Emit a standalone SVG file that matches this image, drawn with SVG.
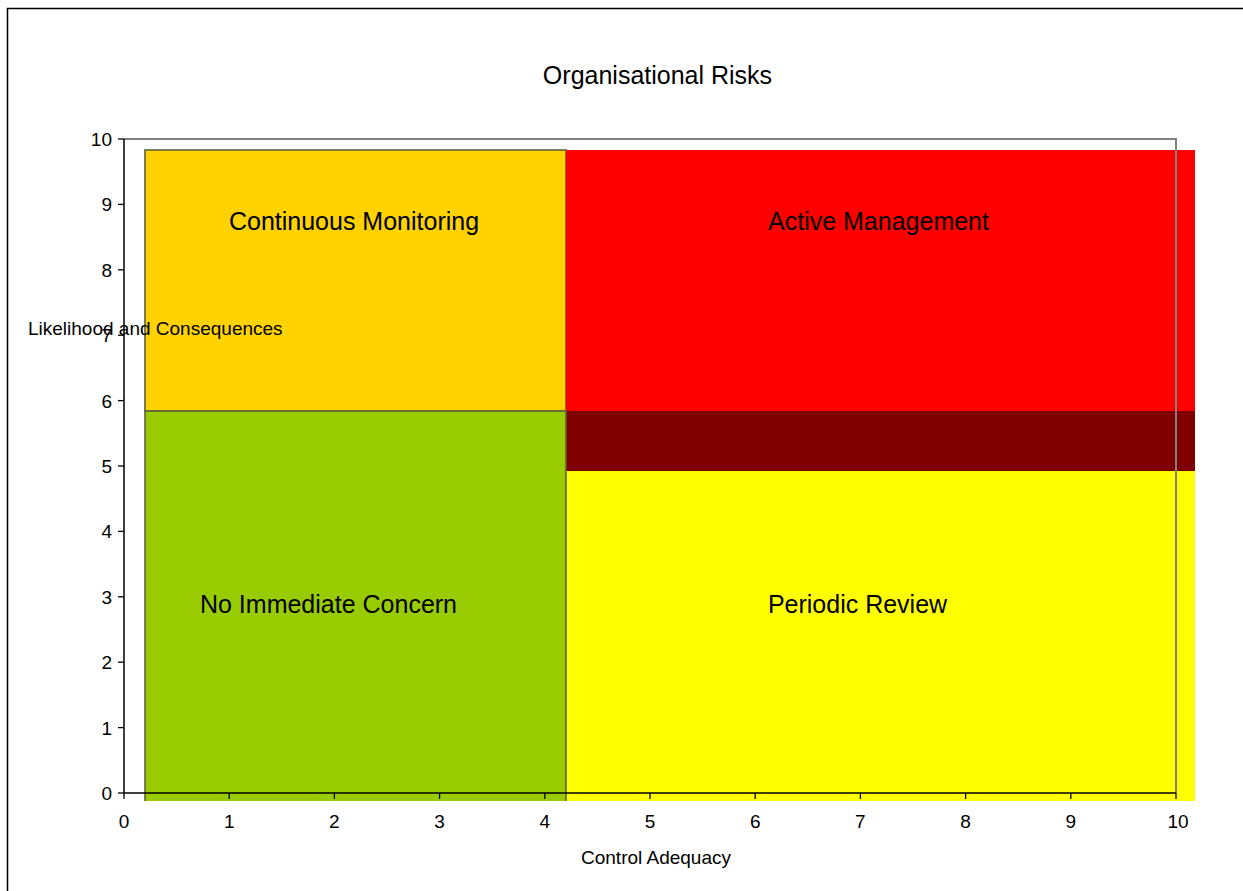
<svg xmlns="http://www.w3.org/2000/svg" width="1243" height="891" viewBox="0 0 1243 891">
<style>
text{font-family:"Liberation Sans",Arial,sans-serif;fill:#000}
.t{font-size:19px}
.r{font-size:25px;text-anchor:middle}
.yl{text-anchor:end}
.xl{text-anchor:middle}
.tick{stroke:#000;stroke-width:1.3}
.zone{stroke:none}
.edge{fill:none;stroke:#5f5f3a;stroke-width:2;stroke-opacity:0.8}
</style>
<rect x="0" y="0" width="1243" height="891" fill="#fff"/>
<rect x="7.5" y="8.5" width="1300" height="1000" fill="none" stroke="#000" stroke-width="1.5"/>
<text class="r" x="657.5" y="84">Organisational Risks</text>
<g id="zones">
<g id="continuous-monitoring">
<rect class="zone" x="145" y="150" width="421" height="261" fill="#FFD200"/>
<rect class="edge" x="145" y="150" width="421" height="261"/>
<text class="r" x="354" y="230">Continuous Monitoring</text>
</g>
<g id="active-management">
<rect class="zone" x="566" y="150" width="629" height="261" fill="#FF0000"/>
<text class="r" x="878.5" y="230">Active Management</text>
</g>
<g id="overlap">
<rect class="zone" x="566" y="411" width="629" height="60" fill="#800000"/>
</g>
<g id="no-immediate-concern">
<rect class="zone" x="145" y="411" width="421" height="390" fill="#99CC00"/>
<polyline class="edge" points="145,801 145,411 566,411 566,801"/>
<text class="r" x="328.5" y="613">No Immediate Concern</text>
</g>
<g id="periodic-review">
<rect class="zone" x="567" y="471" width="628" height="330" fill="#FFFF00"/>
<text class="r" x="857.5" y="613">Periodic Review</text>
</g>
</g>
<g id="axes">
<polyline points="124,139 1176,139 1176,793" fill="none" stroke="#808080" stroke-width="2"/>
<line x1="124" y1="139" x2="124" y2="793" stroke="#000" stroke-width="1.5"/>
<line x1="124" y1="793" x2="1176" y2="793" stroke="#000" stroke-width="1.5"/>
<g class="tick">
<line x1="118" y1="139" x2="124" y2="139"/>
<line x1="118" y1="204.4" x2="124" y2="204.4"/>
<line x1="118" y1="269.8" x2="124" y2="269.8"/>
<line x1="118" y1="335.2" x2="124" y2="335.2"/>
<line x1="118" y1="400.6" x2="124" y2="400.6"/>
<line x1="118" y1="466" x2="124" y2="466"/>
<line x1="118" y1="531.4" x2="124" y2="531.4"/>
<line x1="118" y1="596.8" x2="124" y2="596.8"/>
<line x1="118" y1="662.2" x2="124" y2="662.2"/>
<line x1="118" y1="727.6" x2="124" y2="727.6"/>
<line x1="118" y1="793" x2="124" y2="793"/>
<line x1="124" y1="793" x2="124" y2="799"/>
<line x1="229.2" y1="793" x2="229.2" y2="799"/>
<line x1="334.4" y1="793" x2="334.4" y2="799"/>
<line x1="439.6" y1="793" x2="439.6" y2="799"/>
<line x1="544.8" y1="793" x2="544.8" y2="799"/>
<line x1="650" y1="793" x2="650" y2="799"/>
<line x1="755.2" y1="793" x2="755.2" y2="799"/>
<line x1="860.4" y1="793" x2="860.4" y2="799"/>
<line x1="965.6" y1="793" x2="965.6" y2="799"/>
<line x1="1070.8" y1="793" x2="1070.8" y2="799"/>
<line x1="1176" y1="793" x2="1176" y2="799"/>
</g>
<g class="t yl">
<text x="112" y="146">10</text>
<text x="112" y="211.4">9</text>
<text x="112" y="276.8">8</text>
<text x="112" y="342.2">7</text>
<text x="112" y="407.6">6</text>
<text x="112" y="473">5</text>
<text x="112" y="538.4">4</text>
<text x="112" y="603.8">3</text>
<text x="112" y="669.2">2</text>
<text x="112" y="734.6">1</text>
<text x="112" y="800">0</text>
</g>
<g class="t xl">
<text x="124" y="828">0</text>
<text x="229.2" y="828">1</text>
<text x="334.4" y="828">2</text>
<text x="439.6" y="828">3</text>
<text x="544.8" y="828">4</text>
<text x="650" y="828">5</text>
<text x="755.2" y="828">6</text>
<text x="860.4" y="828">7</text>
<text x="965.6" y="828">8</text>
<text x="1070.8" y="828">9</text>
<text x="1178" y="828">10</text>
</g>
<text class="t" x="28" y="335">Likelihood and Consequences</text>
<text class="t xl" x="656" y="864">Control Adequacy</text>
</g>
</svg>
